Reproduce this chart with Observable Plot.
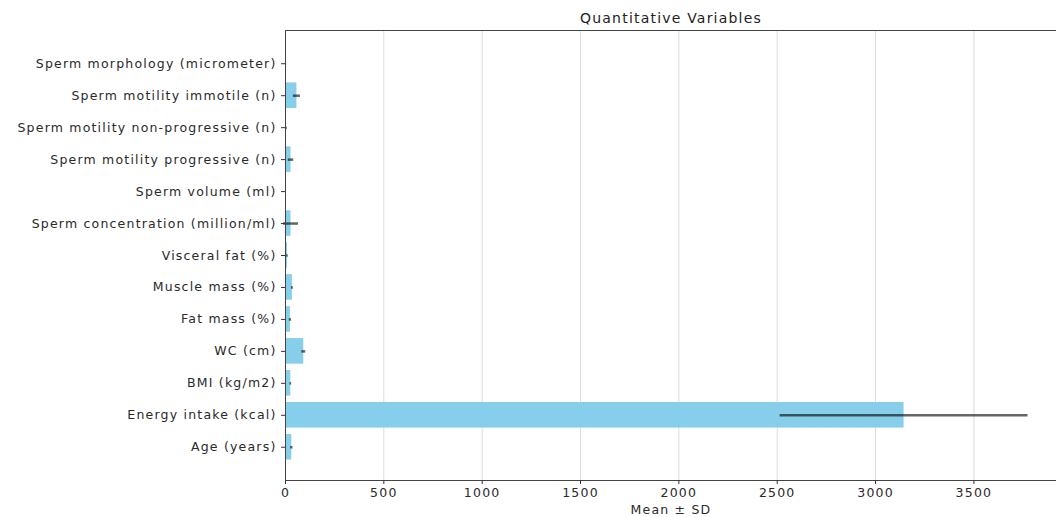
<!DOCTYPE html>
<html>
<head>
<meta charset="utf-8">
<script src="https://cdn.jsdelivr.net/npm/d3@7"></script>
<script src="https://cdn.jsdelivr.net/npm/@observablehq/plot@0.6"></script>
<style>
  html, body { margin: 0; padding: 0; background: #fff; }
  #chart svg { display: block; }
  #chart svg text { letter-spacing: 1.2px; }
</style>
</head>
<body>
<div id="chart"></div>
<script>
const categories = [
  "Age (years)",
  "Energy intake (kcal)",
  "BMI (kg/m2)",
  "WC (cm)",
  "Fat mass (%)",
  "Muscle mass (%)",
  "Visceral fat (%)",
  "Sperm concentration (million/ml)",
  "Sperm volume (ml)",
  "Sperm motility progressive (n)",
  "Sperm motility non-progressive (n)",
  "Sperm motility immotile (n)",
  "Sperm morphology (micrometer)"
];
const means = [32, 3145, 27, 93, 25, 35, 10, 28, 3, 28, 5, 58, 4];
const sds = [6, 630, 4, 10, 6, 5, 4, 38, 1.5, 14, 4, 18, 2];
const xTicks = [0, 500, 1000, 1500, 2000, 2500, 3000, 3500];
const title = "Quantitative Variables";
const xLabel = "Mean ± SD";

const data = categories.map((c, i) => ({cat: c, i, mean: means[i], sd: sds[i]}));
const yIdx = categories.map((c, i) => i);

const chart = Plot.plot({
  width: 1056,
  height: 517,
  marginLeft: 285,
  marginRight: 0,
  marginTop: 30,
  marginBottom: 37,
  style: {fontFamily: "DejaVu Sans", fontSize: "12.5px", color: "#2a2a2a", background: "#fff"},
  x: {domain: [0, 3920]},
  y: {domain: [-1.04, 13.04]},
  marks: [
    Plot.gridX(xTicks, {stroke: "#dcdcdc", strokeOpacity: 1, strokeWidth: 1}),
    Plot.rect(data, {x1: 0, x2: "mean", y1: d => d.i - 0.4, y2: d => d.i + 0.4, fill: "#87CEEB"}),
    Plot.ruleY(data, {y: "i", x1: d => d.mean - d.sd, x2: d => d.mean + d.sd, stroke: "black", strokeOpacity: 0.6, strokeWidth: 2.5}),
    Plot.frame({stroke: "#444", strokeWidth: 1}),
    Plot.axisY(yIdx, {tickFormat: i => categories[i], tickSize: 4, tickPadding: 5, label: null, stroke: "#333"}),
    Plot.axisX(xTicks, {tickFormat: d => String(d), tickSize: 4, tickPadding: 4, label: xLabel, labelAnchor: "center", labelArrow: "none", labelOffset: 33, stroke: "#333"}),
    Plot.text([title], {frameAnchor: "top", dy: -17, fontSize: 14, fill: "#222"})
  ]
});
document.getElementById("chart").appendChild(chart);
</script>
</body>
</html>
